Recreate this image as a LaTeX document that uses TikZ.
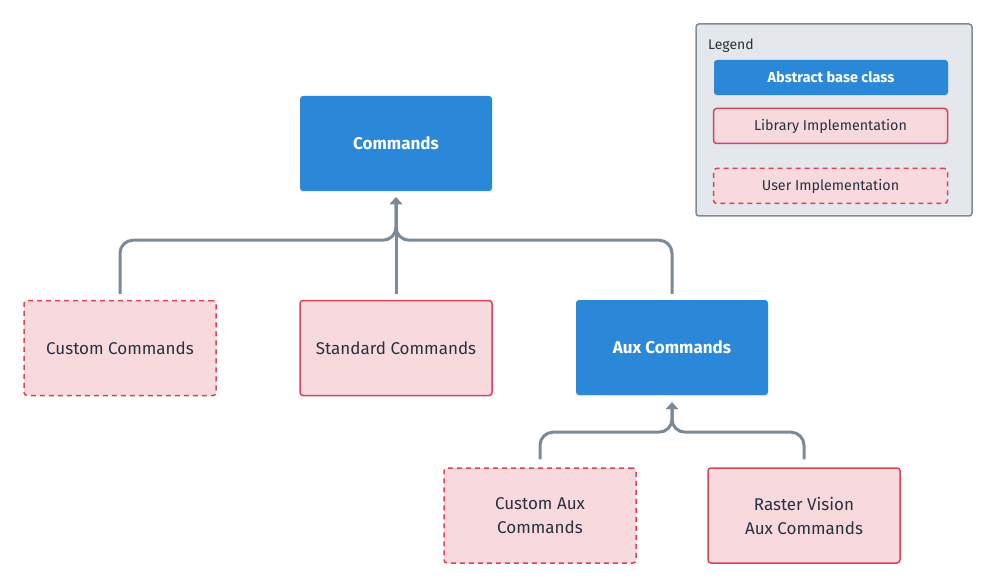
\documentclass[tikz,border=0pt]{standalone}
\usepackage{fontspec}
\setmainfont{Fira Sans}
\usetikzlibrary{arrows.meta,calc,shadows}
\definecolor{bblue}{HTML}{2B88D8}
\definecolor{pfill}{HTML}{F7D9DE}
\definecolor{pred}{HTML}{D64558}
\definecolor{lgrey}{HTML}{7B8A99}
\definecolor{legfill}{HTML}{E4E7EB}
\definecolor{legline}{HTML}{7E8A96}
\definecolor{txt}{HTML}{27313F}
\tikzset{
  base/.style={minimum width=192pt,minimum height=95pt,rounded corners=3pt,align=center,font=\fontsize{17}{24}\selectfont,inner sep=0pt},
  abstr/.style={base,fill=bblue,text=white,font=\fontsize{17}{24}\selectfont\bfseries,drop shadow={opacity=0.15,shadow xshift=0pt,shadow yshift=-1.5pt}},
  libimpl/.style={base,fill=pfill,draw=pred,line width=1.5pt,text=txt},
  userimpl/.style={libimpl,dashed,dash pattern=on 5pt off 4pt},
  conn/.style={draw=lgrey,line width=3pt,rounded corners=13pt,-{Triangle[length=7pt,width=12pt]}},
  legitem/.style={minimum width=234pt,minimum height=35pt,rounded corners=3pt,inner sep=0pt,font=\fontsize{14.3}{16}\selectfont},
}
\begin{document}
\begin{tikzpicture}[x=1pt,y=-1pt]
\useasboundingbox (0,0) rectangle (996,588);
% legend
\node[draw=legline,fill=legfill,line width=1.5pt,rounded corners=3pt,minimum width=276pt,minimum height=192pt,inner sep=0pt] (leg) at (834,120) {};
\node[anchor=west,text=txt,font=\fontsize{14}{15}\selectfont,inner sep=0pt] (legt) at (708,46) {Legend};
\node[legitem,fill=bblue,text=white,font=\fontsize{14.5}{16}\selectfont\bfseries,drop shadow={opacity=0.15,shadow xshift=0pt,shadow yshift=-1pt}] (la) at (831,77.5) {Abstract base class};
\node[legitem,fill=pfill,draw=pred,line width=1.5pt,text=txt] (ll) at (830.5,126) {Library Implementation};
\node[legitem,fill=pfill,draw=pred,line width=1.5pt,dashed,dash pattern=on 5pt off 4pt,text=txt] (lu) at (830.5,186) {User Implementation};
% nodes
\node[abstr] (cmd) at (396,143.5) {Commands};
\node[userimpl] (cc) at (120,348) {Custom Commands};
\node[libimpl] (sc) at (396,348) {Standard Commands};
\node[abstr] (aux) at (672,347.5) {Aux Commands};
\node[userimpl] (cac) at (540,515.5) {Custom Aux\\Commands};
\node[libimpl] (rv) at (804,515.5) {Raster Vision\\Aux Commands};
% connectors
\coordinate (cmdtip) at ($(cmd.south)+(0,6)$);
\coordinate (auxtip) at ($(aux.south)+(0,7)$);
\draw[conn] ($(cc.north)+(0,-6)$) |- ($(cmd.south)+(0,49)$) -- (cmdtip);
\draw[conn] ($(aux.north)+(0,-6)$) |- ($(cmd.south)+(0,49)$) -- (cmdtip);
\draw[conn] ($(sc.north)+(0,-6)$) -- (cmdtip);
\draw[conn] ($(cac.north)+(0,-8)$) |- ($(aux.south)+(0,37)$) -- (auxtip);
\draw[conn] ($(rv.north)+(0,-8)$) |- ($(aux.south)+(0,37)$) -- (auxtip);
\end{tikzpicture}
\end{document}
